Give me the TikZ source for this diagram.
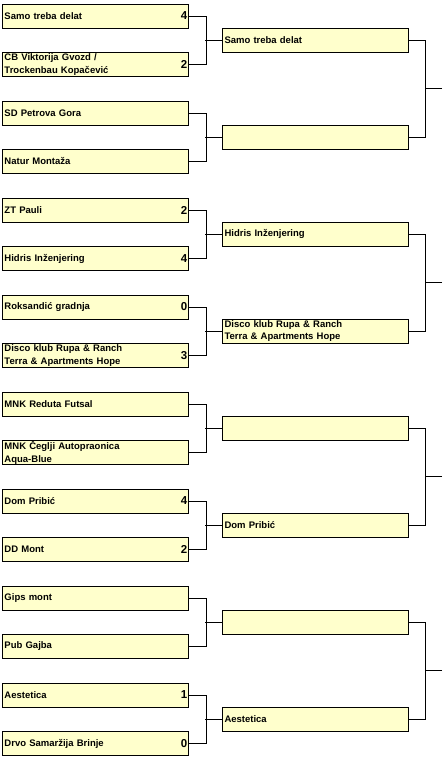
\documentclass[tikz,border=0pt]{standalone}
\usepackage{fontspec}
\setmainfont{Liberation Sans}
\usetikzlibrary{positioning}
\definecolor{boxY}{RGB}{255,255,204}

\begin{document}
\begin{tikzpicture}[x=1pt,y=-1pt,font=\bfseries\fontsize{9.5}{12.5}\selectfont]
  \tikzset{team/.style={draw=black,line width=0.8pt,fill=boxY,minimum width=186pt,minimum height=24pt,text width=182pt,inner xsep=2pt,inner ysep=0pt,align=left},
    score/.style={anchor=east,inner xsep=1.5pt,inner ysep=0pt,font=\bfseries\fontsize{11.5}{12}\selectfont},
    wire/.style={line width=0.8pt}}
  \useasboundingbox (0,0) rectangle (442,759);
  % first round
  \foreach \k/\name/\res in {0/{Samo treba delat}/4, 1/{CB Viktorija Gvozd /\\Trockenbau Kopačević}/2,
      2/{SD Petrova Gora}/{}, 3/{Natur Montaža}/{}, 4/{ZT Pauli}/2, 5/{Hidris Inženjering}/4,
      6/{Roksandić gradnja}/0, 7/{Disco klub Rupa \& Ranch\\Terra \& Apartments Hope}/3,
      8/{MNK Reduta Futsal}/{}, 9/{MNK Čeglji Autopraonica\\Aqua-Blue}/{}, 10/{Dom Pribić}/4,
      11/{DD Mont}/2, 12/{Gips mont}/{}, 13/{Pub Gajba}/{}, 14/{Aestetica}/1, 15/{Drvo Samaržija Brinje}/0} {
    \node[team] (a\k) at (95.5,{16+48.5*\k}) {\name};
    \node[score] (r\k) at (a\k.east) {\res};
  }
  % second round
  \foreach \j/\name in {0/{Samo treba delat}, 1/{}, 2/{Hidris Inženjering},
      3/{Disco klub Rupa \& Ranch\\Terra \& Apartments Hope}, 4/{}, 5/{Dom Pribić}, 6/{}, 7/{Aestetica}} {
    \node[team] (b\j) at (315.5,{40+97*\j}) {\name};
  }
  \foreach \p in {0,...,7} {
    \pgfmathtruncatemacro\u{2*\p}
    \pgfmathtruncatemacro\v{2*\p+1}
    \draw[wire] (a\u.east) -- ++(17,0) |- (a\v.east);
    \draw[wire] (b\p.west) -- ++(-17,0);
  }
  \foreach \q in {0,...,3} {
    \pgfmathtruncatemacro\u{2*\q}
    \pgfmathtruncatemacro\v{2*\q+1}
    \coordinate (c\q) at (442,{88.5+194*\q});
    \draw[wire] (b\u.east) -- ++(16.5,0) |- (b\v.east);
    \draw[wire] (c\q) -- ++(-17,0);
  }
\end{tikzpicture}
\end{document}
